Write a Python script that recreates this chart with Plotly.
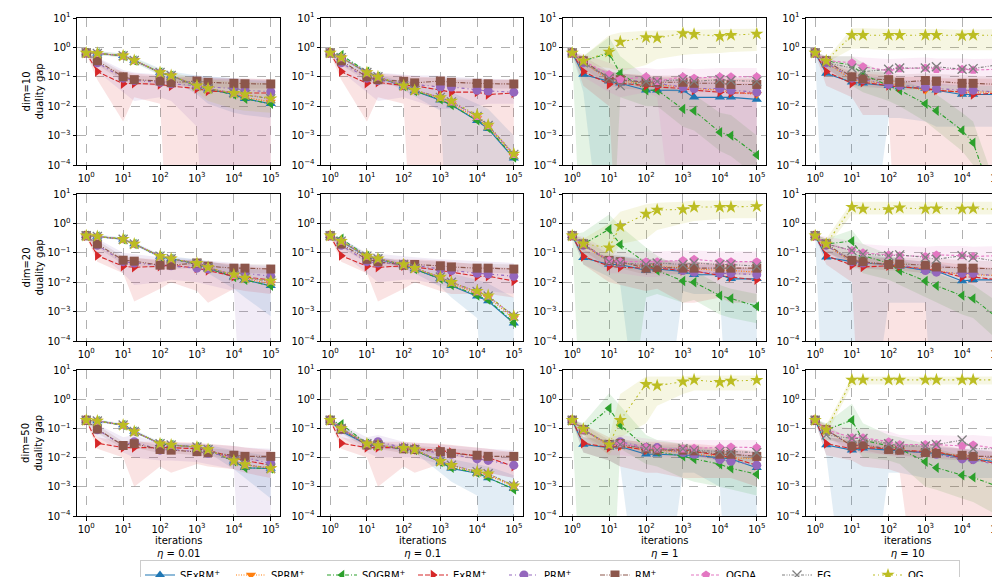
import plotly.graph_objects as go

# ---------------- data ----------------
ITERS = [1, 2, 10, 20, 100, 200, 1000, 2000, 10000, 20000, 100000]
METHODS = ["SExRM+", "SPRM+", "SOGRM+", "ExRM+", "PRM+", "RM+", "OGDA", "EG", "OG"]
LEGEND_LABELS = ["SExRM<sup>+</sup>", "SPRM<sup>+</sup>", "SOGRM<sup>+</sup>", "ExRM<sup>+</sup>",
                 "PRM<sup>+</sup>", "RM<sup>+</sup>", "OGDA", "EG", "OG"]
DIM_LABELS = ["dim=10", "dim=20", "dim=50"]
ETA_LABELS = ["0.01", "0.1", "1", "10"]
X_TICKS = [1, 10, 100, 1000, 10000, 100000]
X_TICK_TEXT = ["10<sup>0</sup>", "10<sup>1</sup>", "10<sup>2</sup>", "10<sup>3</sup>", "10<sup>4</sup>", "10<sup>5</sup>"]
Y_TICKS = [1e-4, 1e-3, 1e-2, 1e-1, 1, 10]
Y_TICK_TEXT = ["10<sup>−4</sup>", "10<sup>−3</sup>", "10<sup>−2</sup>", "10<sup>−1</sup>", "10<sup>0</sup>", "10<sup>1</sup>"]
Z = 1e-9  # band bound below zero in the source (clipped on log axis)

# dim=10
gap_d10_eta001 = {
    "SExRM+": [.65, .62, .52, .36, .14, .11, .048, .038, .025, .018, .012],
    "SPRM+":  [.65, .62, .52, .36, .14, .11, .05, .04, .027, .02, .014],
    "SOGRM+": [.65, .63, .52, .36, .14, .11, .048, .038, .025, .018, .012],
    "ExRM+":  [.65, .15, .058, .06, .055, .048, .04, .033, .03, .028, .028],
    "PRM+":   [.65, .3, .09, .075, .065, .058, .05, .045, .04, .035, .031],
    "RM+":    [.65, .35, .1, .08, .072, .063, .072, .065, .06, .058, .057],
    "OGDA":   [.65, .63, .52, .36, .14, .11, .05, .04, .028, .025, .018],
    "EG":     [.65, .62, .52, .36, .14, .11, .05, .04, .028, .024, .018],
    "OG":     [.65, .63, .52, .36, .14, .11, .05, .04, .028, .025, .018],
}
band_d10_eta001 = {
    "SExRM+": ([.6, .55, .45, .3, .11, .085, .025, .012, .006, .005, .004], [.7, .75, .62, .45, .19, .15, .11, .1, .09, .08, .07]),
    "OG":     ([.6, .56, .46, .31, .12, .09, .03, .015, .008, .007, .006], [.7, .72, .6, .43, .17, .14, .09, .08, .07, .065, .06]),
    "ExRM+":  ([.6, .08, .003, .02, .012, Z, Z, Z, Z, Z, Z], [.7, .25, .15, .13, .11, .1, .1, .09, .09, .085, .085]),
    "PRM+":   ([.6, .15, .03, .015, .02, .015, .002, Z, Z, Z, Z], [.7, .45, .17, .14, .12, .11, .11, .1, .09, .085, .08]),
    "RM+":    ([.6, .25, .07, .055, .05, .045, .05, .045, .04, .04, .04], [.7, .45, .14, .11, .1, .09, .1, .09, .085, .08, .08]),
}
gap_d10_eta01 = {
    "SExRM+": [.65, .45, .14, .1, .048, .033, .016, .011, .0032, .0017, .00017],
    "SPRM+":  [.65, .46, .14, .1, .05, .034, .018, .012, .0038, .002, .0002],
    "SOGRM+": [.65, .55, .15, .1, .048, .033, .017, .011, .0033, .0018, .00018],
    "ExRM+":  [.65, .15, .06, .065, .05, .05, .035, .03, .03, .025, .028],
    "PRM+":   [.65, .3, .09, .075, .06, .055, .045, .045, .035, .033, .03],
    "RM+":    [.65, .35, .1, .08, .07, .062, .072, .065, .06, .058, .057],
    "OGDA":   [.65, .45, .14, .1, .05, .035, .02, .014, .0045, .0022, .00023],
    "EG":     [.65, .45, .14, .1, .05, .035, .02, .014, .0045, .0022, .00023],
    "OG":     [.65, .45, .14, .1, .05, .035, .02, .015, .005, .0023, .00024],
}
band_d10_eta01 = {
    "SExRM+": ([.6, .4, .12, .085, .035, .022, .007, Z, Z, Z, Z], [.7, .52, .17, .12, .065, .05, .04, .03, .012, .008, .001]),
    "ExRM+":  ([.6, .08, .003, .02, .012, Z, Z, Z, Z, Z, Z], [.7, .25, .15, .13, .11, .1, .09, .08, .08, .08, .08]),
    "PRM+":   ([.6, .15, .03, .015, .02, .015, .008, .008, .01, .012, .012], [.7, .45, .17, .14, .12, .11, .11, .1, .09, .085, .08]),
    "RM+":    ([.6, .25, .07, .055, .05, .045, .05, .045, .04, .04, .04], [.7, .45, .14, .11, .1, .09, .1, .09, .085, .08, .08]),
}
gap_d10_eta1 = {
    "SExRM+": [.65, .12, .07, .06, .035, .035, .035, .02, .02, .02, .017],
    "SPRM+":  [.65, .3, .08, .07, .06, .055, .045, .04, .035, .03, .025],
    "SOGRM+": [.65, .35, .63, .13, .035, .035, .008, .007, .0013, .001, .00022],
    "ExRM+":  [.65, .15, .056, .06, .05, .045, .04, .035, .03, .028, .028],
    "PRM+":   [.65, .3, .09, .075, .07, .06, .045, .04, .04, .035, .03],
    "RM+":    [.65, .35, .09, .08, .065, .065, .065, .06, .06, .055, .055],
    "OGDA":   [.65, .35, .12, .08, .1, .07, .1, .09, .1, .1, .1],
    "EG":     [.65, .3, .09, .05, .07, .07, .08, .07, .08, .075, .07],
    "OG":     [.65, .35, .7, 1.55, 2.2, 2.1, 3.0, 2.8, 2.4, 2.6, 2.9],
}
band_d10_eta1 = {
    "OG":     ([.6, .25, .2, .15, .25, .4, .55, .6, .65, .7, .75], [.7, .5, 2.6, 3.2, 3.7, 3.8, 4.0, 4.0, 4.1, 4.2, 4.3]),
    "SOGRM+": ([.6, Z, Z, .02, .01, .01, .002, .0015, .0003, .0002, .00004], [.7, .5, 2.2, .5, .1, .08, .03, .025, .006, .005, .001]),
    "SExRM+": ([.6, .03, Z, Z, Z, Z, Z, Z, Z, Z, Z], [.7, .25, .15, .13, .1, .09, .08, .07, .07, .06, .06]),
    "ExRM+":  ([.6, .05, .01, Z, Z, Z, Z, Z, Z, Z, Z], [.7, .3, .15, .13, .11, .1, .1, .09, .09, .085, .085]),
    "OGDA":   ([.6, .1, .03, .02, .03, .02, Z, Z, Z, Z, Z], [.7, .6, .3, .2, .2, .18, .2, .18, .2, .2, .2]),
    "RM+":    ([.6, .2, .05, .04, .035, .035, .03, .03, .03, .03, .03], [.7, .5, .15, .13, .11, .11, .11, .1, .1, .095, .095]),
}
gap_d10_eta10 = {
    "SExRM+": [.65, .13, .065, .06, .05, .045, .04, .035, .025, .025, .025],
    "SPRM+":  [.65, .3, .08, .07, .06, .05, .035, .035, .03, .03, .03],
    "SOGRM+": [.65, .35, .25, .12, .05, .035, .012, .007, .0015, .00057, .000002],
    "ExRM+":  [.65, .15, .06, .065, .05, .045, .04, .035, .03, .025, .028],
    "PRM+":   [.65, .3, .09, .08, .055, .05, .045, .04, .035, .035, .03],
    "RM+":    [.65, .35, .1, .085, .08, .065, .075, .07, .06, .06, .055],
    "OGDA":   [.65, .35, .3, .22, .16, .19, .2, .18, .18, .17, .18],
    "EG":     [.65, .3, .2, .15, .18, .2, .2, .22, .18, .19, .26],
    "OG":     [.65, .35, 2.6, 2.6, 2.6, 2.6, 2.6, 2.6, 2.5, 2.6, 2.6],
}
band_d10_eta10 = {
    "OG":     ([.6, .3, .9, .9, .8, .8, .8, .8, .8, .8, .8], [.7, .4, 4.5, 4.5, 4.2, 4.2, 4.2, 4.2, 4.0, 4.0, 4.2]),
    "SOGRM+": ([.6, .2, .05, .03, .015, .01, .003, .0015, .0003, .0001, Z], [.7, .5, .5, .3, .12, .08, .04, .025, .006, .003, .00001]),
    "SExRM+": ([.6, Z, Z, Z, .004, .004, .003, .002, .002, .002, .002], [.7, .3, .12, .11, .09, .08, .07, .06, .05, .05, .05]),
    "ExRM+":  ([.6, .05, .02, .005, .005, Z, Z, Z, Z, Z, Z], [.7, .3, .15, .13, .11, .1, .1, .09, .09, .085, .085]),
    "OGDA":   ([.6, .15, .08, .05, .04, .05, .05, .05, .05, .05, .05], [.7, .5, .5, .45, .4, .42, .45, .42, .42, .4, .42]),
    "RM+":    ([.6, .2, .05, .045, .04, .035, .04, .035, .03, .03, .03], [.7, .5, .18, .15, .14, .12, .13, .12, .11, .11, .1]),
}

# dim=20
gap_d20_eta001 = {
    "SExRM+": [.38, .36, .29, .2, .075, .062, .042, .03, .015, .012, .0075],
    "SPRM+":  [.38, .36, .29, .2, .077, .063, .043, .032, .016, .013, .009],
    "SOGRM+": [.38, .36, .29, .2, .075, .062, .042, .03, .015, .012, .0075],
    "ExRM+":  [.38, .08, .035, .032, .035, .038, .03, .025, .016, .015, .012],
    "PRM+":   [.38, .18, .05, .045, .038, .036, .03, .028, .02, .02, .016],
    "RM+":    [.38, .2, .056, .052, .038, .038, .045, .035, .03, .03, .028],
    "OGDA":   [.38, .36, .29, .2, .077, .063, .044, .032, .017, .014, .011],
    "EG":     [.38, .36, .29, .2, .077, .063, .044, .032, .017, .014, .011],
    "OG":     [.38, .36, .29, .2, .077, .063, .044, .032, .018, .014, .011],
}
band_d20_eta001 = {
    "SExRM+": ([.35, .33, .26, .18, .065, .052, .03, .02, .006, .003, .0007], [.42, .42, .33, .23, .09, .075, .06, .05, .035, .03, .025]),
    "ExRM+":  ([.35, .05, .02, .0022, .006, .01, .005, .002, .006, .005, .004], [.42, .15, .07, .065, .06, .06, .055, .05, .04, .035, .03]),
    "PRM+":   ([.35, .1, .02, .008, .01, .012, .01, .008, .005, Z, Z], [.42, .3, .1, .09, .07, .07, .06, .055, .045, .04, .035]),
    "RM+":    ([.35, .15, .04, .038, .028, .028, .03, .025, .02, .02, .02], [.42, .26, .075, .07, .052, .052, .06, .048, .042, .042, .04]),
}
gap_d20_eta01 = {
    "SExRM+": [.38, .24, .075, .06, .038, .028, .013, .0075, .0033, .0023, .0004],
    "SPRM+":  [.38, .25, .075, .062, .04, .03, .014, .009, .004, .003, .0006],
    "SOGRM+": [.38, .3, .078, .062, .038, .028, .013, .008, .0035, .0025, .00042],
    "ExRM+":  [.38, .08, .035, .032, .036, .033, .025, .022, .016, .016, .011],
    "PRM+":   [.38, .18, .05, .045, .042, .038, .028, .025, .02, .019, .016],
    "RM+":    [.38, .2, .06, .05, .038, .04, .036, .033, .03, .03, .028],
    "OGDA":   [.38, .25, .077, .063, .04, .03, .015, .01, .0048, .0034, .0007],
    "EG":     [.38, .25, .077, .063, .04, .03, .015, .01, .0048, .0034, .0007],
    "OG":     [.38, .25, .078, .063, .04, .03, .015, .01, .005, .0035, .0007],
}
band_d20_eta01 = {
    "SExRM+": ([.35, .21, .065, .052, .03, .02, .007, .003, .0006, Z, Z], [.42, .32, .09, .075, .05, .04, .025, .02, .012, .009, .003]),
    "ExRM+":  ([.35, .05, .02, .0022, .006, .01, .005, .004, .004, .004, .003], [.42, .15, .07, .065, .06, .06, .055, .05, .04, .035, .03]),
    "PRM+":   ([.35, .1, .02, .01, .012, .012, .008, .007, .005, .005, .004], [.42, .3, .1, .09, .075, .07, .06, .055, .05, .05, .045]),
    "RM+":    ([.35, .15, .045, .038, .028, .03, .026, .024, .021, .021, .02], [.42, .26, .08, .066, .052, .055, .05, .046, .042, .042, .04]),
}
gap_d20_eta1 = {
    "SExRM+": [.38, .068, .04, .04, .025, .028, .023, .018, .018, .013, .013],
    "SPRM+":  [.38, .18, .05, .045, .035, .035, .03, .028, .025, .025, .022],
    "SOGRM+": [.38, .2, .63, .19, .045, .025, .011, .01, .0035, .0028, .0015],
    "ExRM+":  [.38, .075, .035, .032, .03, .03, .025, .024, .017, .015, .012],
    "PRM+":   [.38, .18, .05, .045, .035, .035, .025, .022, .02, .02, .018],
    "RM+":    [.38, .2, .055, .05, .03, .032, .03, .03, .03, .03, .03],
    "OGDA":   [.38, .2, .055, .05, .05, .05, .055, .06, .05, .05, .05],
    "EG":     [.38, .2, .05, .045, .04, .045, .04, .045, .04, .04, .035],
    "OG":     [.38, .2, .15, .8, 2.1, 2.85, 3.0, 3.6, 3.6, 3.6, 3.8],
}
band_d20_eta1 = {
    "OG":     ([.35, .15, .05, .2, .3, .6, 1.0, 1.2, 1.4, 1.5, 1.5], [.42, .3, 1.0, 2.5, 4.5, 5, 5.5, 6, 6, 6, 6]),
    "SOGRM+": ([.35, Z, Z, Z, .003, .004, .002, .0025, .0008, .0006, .0004], [.42, .5, 2.0, .8, .15, .08, .03, .025, .008, .006, .004]),
    "SExRM+": ([.35, .04, .015, .008, Z, Z, .005, .004, .004, Z, Z], [.42, .12, .08, .08, .06, .06, .05, .04, .04, .03, .03]),
    "ExRM+":  ([.35, .04, .01, .008, .005, .006, .002, .002, .003, .002, .002], [.42, .13, .07, .065, .06, .06, .05, .05, .04, .035, .03]),
    "OGDA":   ([.35, .1, .02, .02, .015, .015, .02, .02, .018, .018, .018], [.42, .35, .12, .11, .11, .11, .12, .12, .11, .11, .11]),
    "RM+":    ([.35, .12, .03, .03, .018, .02, .018, .018, .018, .018, .018], [.42, .3, .09, .08, .05, .055, .05, .05, .05, .05, .05]),
}
gap_d20_eta10 = {
    "SExRM+": [.38, .07, .05, .045, .04, .035, .025, .024, .011, .012, .012],
    "SPRM+":  [.38, .18, .05, .045, .04, .035, .028, .025, .018, .018, .017],
    "SOGRM+": [.38, .2, .25, .08, .045, .025, .011, .0075, .0035, .0028, .00056],
    "ExRM+":  [.38, .08, .038, .033, .036, .035, .028, .025, .015, .015, .012],
    "PRM+":   [.38, .18, .05, .045, .04, .04, .025, .022, .02, .02, .016],
    "RM+":    [.38, .2, .055, .05, .04, .042, .038, .033, .03, .03, .028],
    "OGDA":   [.38, .2, .12, .1, .085, .08, .075, .085, .08, .075, .08],
    "EG":     [.38, .2, .12, .09, .08, .085, .07, .06, .08, .07, .05],
    "OG":     [.38, .2, 3.6, 3.1, 3.0, 3.4, 3.1, 3.2, 3.1, 3.2, 3.0],
}
band_d20_eta10 = {
    "OG":     ([.35, .15, 2.0, 2.0, 2.0, 2.0, 2.0, 2.0, 2.0, 2.0, 2.0], [.42, .3, 5.5, 5.5, 5.5, 5.5, 5.5, 5.5, 5.5, 5.5, 5.5]),
    "SOGRM+": ([.35, .1, .05, .02, .012, .008, .003, .002, .0008, .0006, .0001], [.42, .3, .6, .2, .09, .06, .03, .02, .01, .008, .002]),
    "SExRM+": ([.35, Z, Z, Z, .002, .002, .002, Z, Z, Z, Z], [.42, .12, .09, .08, .07, .06, .05, .045, .03, .03, .03]),
    "ExRM+":  ([.35, .04, .01, Z, Z, Z, Z, Z, Z, Z, Z], [.42, .13, .08, .07, .065, .06, .05, .05, .04, .035, .03]),
    "OGDA":   ([.35, .1, .04, .03, .03, .03, .025, .03, .03, .025, .03], [.42, .35, .25, .2, .17, .17, .16, .17, .17, .16, .17]),
    "RM+":    ([.35, .12, .03, .03, .025, .025, .02, .02, .018, .018, .017], [.42, .3, .1, .09, .07, .07, .065, .06, .055, .055, .05]),
}

# dim=50
gap_d50_eta001 = {
    "SExRM+": [.19, .18, .13, .078, .03, .027, .023, .019, .0075, .0045, .0042],
    "SPRM+":  [.19, .18, .13, .078, .03, .027, .023, .019, .0078, .0055, .0043],
    "SOGRM+": [.19, .18, .13, .078, .03, .027, .023, .019, .0075, .0045, .0042],
    "ExRM+":  [.19, .031, .022, .022, .022, .022, .02, .018, .01, .008, .0055],
    "PRM+":   [.19, .09, .026, .035, .018, .019, .016, .014, .011, .01, .0063],
    "RM+":    [.19, .095, .026, .03, .019, .018, .016, .015, .012, .011, .011],
    "OGDA":   [.19, .18, .13, .078, .03, .027, .023, .019, .0078, .0058, .0043],
    "EG":     [.19, .18, .13, .078, .03, .027, .023, .019, .0078, .0058, .0043],
    "OG":     [.19, .18, .13, .078, .03, .027, .023, .019, .0078, .0058, .0043],
}
band_d50_eta001 = {
    "SExRM+": ([.17, .16, .12, .07, .026, .023, .019, .015, .004, .002, .0004], [.21, .2, .15, .09, .035, .032, .03, .027, .018, .015, .011]),
    "ExRM+":  ([.17, .02, .01, .001, .005, .003, .006, .005, .004, .003, .002], [.21, .05, .035, .035, .035, .035, .032, .03, .025, .022, .018]),
    "PRM+":   ([.17, .05, .015, .01, .008, .008, .007, .006, .004, Z, Z], [.21, .14, .05, .06, .03, .03, .03, .028, .025, .022, .02]),
    "RM+":    ([.17, .07, .02, .022, .014, .014, .012, .011, .009, .008, .008], [.21, .13, .035, .04, .026, .025, .022, .021, .018, .016, .016]),
}
gap_d50_eta01 = {
    "SExRM+": [.19, .08, .028, .025, .02, .018, .007, .0042, .0029, .002, .00085],
    "SPRM+":  [.19, .1, .03, .026, .02, .018, .0072, .005, .003, .0025, .001],
    "SOGRM+": [.19, .14, .03, .026, .02, .018, .007, .0045, .003, .0021, .0008],
    "ExRM+":  [.19, .031, .022, .022, .022, .02, .018, .015, .011, .01, .005],
    "PRM+":   [.19, .09, .027, .035, .022, .02, .014, .013, .009, .008, .0055],
    "RM+":    [.19, .095, .027, .027, .02, .019, .016, .014, .012, .011, .011],
    "OGDA":   [.19, .1, .03, .026, .021, .019, .0075, .0055, .0033, .0028, .0011],
    "EG":     [.19, .1, .03, .026, .021, .019, .0075, .0055, .0033, .0028, .0011],
    "OG":     [.19, .1, .03, .026, .021, .019, .0075, .0055, .0033, .0028, .0011],
}
band_d50_eta01 = {
    "SExRM+": ([.17, .07, .025, .022, .017, .015, .003, .0015, .0005, Z, Z], [.21, .12, .034, .03, .024, .022, .012, .009, .006, .005, .0025]),
    "ExRM+":  ([.17, .02, .01, .001, .005, .003, .006, .005, .004, .003, .002], [.21, .05, .035, .035, .035, .032, .03, .028, .022, .02, .015]),
    "PRM+":   ([.17, .05, .015, .01, .01, .01, .006, .005, .004, .003, .002], [.21, .14, .05, .06, .035, .032, .028, .026, .022, .02, .018]),
    "RM+":    ([.17, .07, .02, .02, .014, .014, .012, .011, .009, .008, .008], [.21, .13, .035, .035, .026, .025, .022, .02, .018, .016, .016]),
}
gap_d50_eta1 = {
    "SExRM+": [.19, .028, .022, .024, .013, .013, .012, .012, .01, .009, .0045],
    "SPRM+":  [.19, .09, .025, .025, .018, .018, .015, .013, .011, .01, .009],
    "SOGRM+": [.19, .09, .49, .13, .022, .016, .011, .009, .0059, .0043, .0027],
    "ExRM+":  [.19, .031, .022, .025, .018, .02, .018, .016, .012, .01, .0055],
    "PRM+":   [.19, .09, .028, .035, .022, .022, .015, .013, .0085, .0075, .0055],
    "RM+":    [.19, .09, .028, .03, .02, .018, .018, .017, .013, .013, .011],
    "OGDA":   [.19, .09, .028, .03, .022, .02, .02, .021, .022, .023, .022],
    "EG":     [.19, .09, .028, .028, .02, .018, .02, .018, .016, .016, .015],
    "OG":     [.19, .095, .028, .19, 3.3, 2.9, 4.0, 4.6, 3.8, 4.2, 4.5],
}
band_d50_eta1 = {
    "OG":     ([.17, .06, .012, .05, .15, .6, 1.5, 2.0, 2.0, 2.0, 2.0], [.21, .13, .05, 1.5, 6, 6, 6, 6.5, 6.5, 6.5, 6.5]),
    "SOGRM+": ([.17, Z, Z, .02, .006, .005, .002, .0015, .001, .0008, .0005], [.21, .15, 1.6, .6, .06, .04, .03, .025, .018, .015, .01]),
    "SExRM+": ([.17, .015, .008, .005, Z, Z, .003, .003, .001, Z, Z], [.21, .05, .04, .04, .025, .025, .022, .02, .018, .016, .012]),
    "ExRM+":  ([.17, .015, .008, .005, .003, .003, .002, .002, .002, .002, .001], [.21, .05, .04, .04, .035, .035, .03, .03, .025, .02, .015]),
    "OGDA":   ([.17, .05, .012, .012, .01, .01, .01, .01, .01, .01, .01], [.21, .14, .05, .06, .045, .04, .04, .04, .04, .04, .04]),
    "RM+":    ([.17, .06, .018, .02, .013, .012, .012, .011, .008, .008, .007], [.21, .13, .04, .045, .03, .028, .028, .026, .02, .02, .017]),
}
gap_d50_eta10 = {
    "SExRM+": [.19, .027, .018, .021, .018, .017, .015, .014, .01, .009, .007],
    "SPRM+":  [.19, .09, .025, .025, .02, .018, .016, .015, .011, .01, .008],
    "SOGRM+": [.19, .09, .19, .04, .025, .02, .0072, .0045, .0025, .0021, .001],
    "ExRM+":  [.19, .03, .02, .022, .02, .018, .016, .016, .01, .009, .006],
    "PRM+":   [.19, .09, .025, .028, .02, .018, .015, .013, .009, .0085, .0055],
    "RM+":    [.19, .09, .025, .028, .019, .018, .015, .014, .012, .011, .011],
    "OGDA":   [.19, .09, .049, .048, .035, .028, .028, .028, .025, .027, .02],
    "EG":     [.19, .06, .045, .045, .03, .025, .025, .028, .04, .02, .02],
    "OG":     [.19, .09, 4.6, 4.6, 4.6, 4.6, 4.6, 4.6, 4.6, 4.6, 4.6],
}
band_d50_eta10 = {
    "OG":     ([.17, .06, 3.0, 3.2, 3.2, 3.2, 3.2, 3.2, 3.2, 3.2, 3.2], [.21, .13, 6, 6, 6, 6, 6, 6, 6, 6, 6]),
    "SOGRM+": ([.17, .04, .03, .01, .008, .006, .001, .0008, .0004, .0003, .0001], [.21, .15, .7, .15, .06, .05, .03, .02, .012, .01, .005]),
    "SExRM+": ([.17, .012, Z, Z, .003, .003, .002, .002, .002, .002, .002], [.21, .05, .04, .04, .03, .03, .025, .025, .02, .02, .015]),
    "ExRM+":  ([.17, .012, .008, .005, .004, .003, Z, Z, Z, Z, Z], [.21, .05, .04, .04, .035, .03, .028, .028, .02, .018, .015]),
    "OGDA":   ([.17, .05, .015, .015, .012, .01, .01, .01, .009, .01, .008], [.21, .14, .1, .1, .08, .06, .06, .06, .055, .06, .05]),
    "RM+":    ([.17, .06, .015, .018, .012, .012, .01, .009, .008, .007, .007], [.21, .13, .04, .045, .03, .028, .024, .022, .02, .018, .018]),
}

GAPS = [[gap_d10_eta001, gap_d10_eta01, gap_d10_eta1, gap_d10_eta10],
        [gap_d20_eta001, gap_d20_eta01, gap_d20_eta1, gap_d20_eta10],
        [gap_d50_eta001, gap_d50_eta01, gap_d50_eta1, gap_d50_eta10]]
BANDS = [[band_d10_eta001, band_d10_eta01, band_d10_eta1, band_d10_eta10],
         [band_d20_eta001, band_d20_eta01, band_d20_eta1, band_d20_eta10],
         [band_d50_eta001, band_d50_eta01, band_d50_eta1, band_d50_eta10]]

# ---------------- styles ----------------
COLORS = {"SExRM+": (31, 119, 180), "SPRM+": (255, 127, 14), "SOGRM+": (44, 160, 44),
          "ExRM+": (214, 39, 40), "PRM+": (148, 103, 189), "RM+": (140, 86, 75),
          "OGDA": (227, 119, 194), "EG": (127, 127, 127), "OG": (188, 189, 34)}
SYMBOLS = {"SExRM+": "triangle-up", "SPRM+": "triangle-down", "SOGRM+": "triangle-left",
           "ExRM+": "triangle-right", "PRM+": "circle", "RM+": "square",
           "OGDA": "pentagon", "EG": "x-thin", "OG": "star"}
DASHES = {"SExRM+": "solid", "SPRM+": "1px,1.5px", "SOGRM+": "4px,2px,1px,2px",
          "ExRM+": "5px,2px", "PRM+": "3px,3px,1px,3px", "RM+": "5px,1.5px,1px,1.5px,1px,1.5px",
          "OGDA": "3px,2px", "EG": "3px,1.5px,1px,1.5px,1px,1.5px", "OG": "2px,3px,1px,3px"}
SIZES = {"SExRM+": 9, "SPRM+": 9, "SOGRM+": 9, "ExRM+": 9, "PRM+": 9, "RM+": 9,
         "OGDA": 9, "EG": 9, "OG": 10}

W, H = 1000, 577
COL_PX = [(69, 272), (313, 515), (555, 758), (798, 1000)]
ROW_PX = [(10, 157), (186, 333), (362, 508)]
FONT = "DejaVu Sans, Arial, sans-serif"
FS = 10


def rgba(c, a):
    return "rgba(%d,%d,%d,%s)" % (c[0], c[1], c[2], a)


fig = go.Figure()
layout = {}
annotations = []

for r in range(3):
    for c in range(4):
        k = r * 4 + c + 1
        xa = "x" if k == 1 else "x%d" % k
        ya = "y" if k == 1 else "y%d" % k
        gaps = GAPS[r][c]
        bands = BANDS[r][c]
        # shaded bands
        for m in METHODS:
            if m in bands:
                lo, hi = bands[m]
                fig.add_trace(go.Scatter(
                    x=ITERS + ITERS[::-1], y=lo + hi[::-1], mode="lines",
                    fill="toself", fillcolor=rgba(COLORS[m], 0.13),
                    line=dict(width=0), hoverinfo="skip", showlegend=False,
                    xaxis=xa, yaxis=ya))
        # mean curves
        for m, lab in zip(METHODS, LEGEND_LABELS):
            col = rgba(COLORS[m], 1)
            if m == "EG":
                marker = dict(symbol=SYMBOLS[m], size=SIZES[m], color=col,
                              line=dict(width=1.3, color=col))
            else:
                marker = dict(symbol=SYMBOLS[m], size=SIZES[m], color=col,
                              line=dict(width=0))
            fig.add_trace(go.Scatter(
                x=ITERS, y=gaps[m], mode="lines+markers", name=lab,
                line=dict(color=col, width=1.1, dash=DASHES[m]), marker=marker,
                showlegend=(k == 1), legendgroup=m, xaxis=xa, yaxis=ya))

        x0, x1 = COL_PX[c]
        y0, y1 = ROW_PX[r]
        axis_common = dict(type="log", showline=True, linecolor="black", linewidth=1,
                           mirror=True, ticks="outside", ticklen=3.5, tickwidth=0.8,
                           tickcolor="black", showgrid=True, gridcolor="#b0b0b0",
                           griddash="dash", gridwidth=0.8, zeroline=False,
                           automargin=False,
                           tickfont=dict(family=FONT, size=FS, color="black"))
        layout["xaxis" if k == 1 else "xaxis%d" % k] = dict(
            axis_common, domain=[x0 / W, x1 / W], range=[-0.25, 5.25],
            tickvals=X_TICKS, ticktext=X_TICK_TEXT, anchor=ya)
        layout["yaxis" if k == 1 else "yaxis%d" % k] = dict(
            axis_common, domain=[1 - y1 / H, 1 - y0 / H], range=[-4, 1],
            tickvals=Y_TICKS, ticktext=Y_TICK_TEXT, anchor=xa)

# row labels
for r in range(3):
    y0, y1 = ROW_PX[r]
    annotations.append(dict(text=DIM_LABELS[r] + "<br>duality gap", x=24 / W, y=1 - (y0 + y1) / 2 / H,
                            xref="paper", yref="paper", showarrow=False, textangle=-90,
                            font=dict(family=FONT, size=FS, color="black"),
                            xanchor="center", yanchor="middle"))
# column labels
for c in range(4):
    x0, x1 = COL_PX[c]
    xc = (x0 + x1) / 2 if c < 3 else (x0 + x0 + 203) / 2
    annotations.append(dict(text="iterations<br><i>η</i> = " + ETA_LABELS[c], x=xc / W,
                            y=1 - 539 / H, xref="paper", yref="paper", showarrow=False,
                            font=dict(family=FONT, size=FS, color="black"),
                            xanchor="center", yanchor="middle"))

fig.update_layout(
    width=W, height=H, margin=dict(l=0, r=0, t=0, b=0, autoexpand=False),
    paper_bgcolor="white", plot_bgcolor="white",
    font=dict(family=FONT, size=FS, color="black"),
    annotations=annotations,
    legend=dict(orientation="h", x=132 / W, xanchor="left", y=1 - 567 / H, yanchor="middle",
                bordercolor="#cccccc", borderwidth=1, bgcolor="white",
                font=dict(family=FONT, size=FS, color="black"),
                entrywidth=46, entrywidthmode="pixels", itemwidth=30,
                tracegroupgap=0),
    showlegend=True,
    **layout,
)

fig.write_html("out.html")
